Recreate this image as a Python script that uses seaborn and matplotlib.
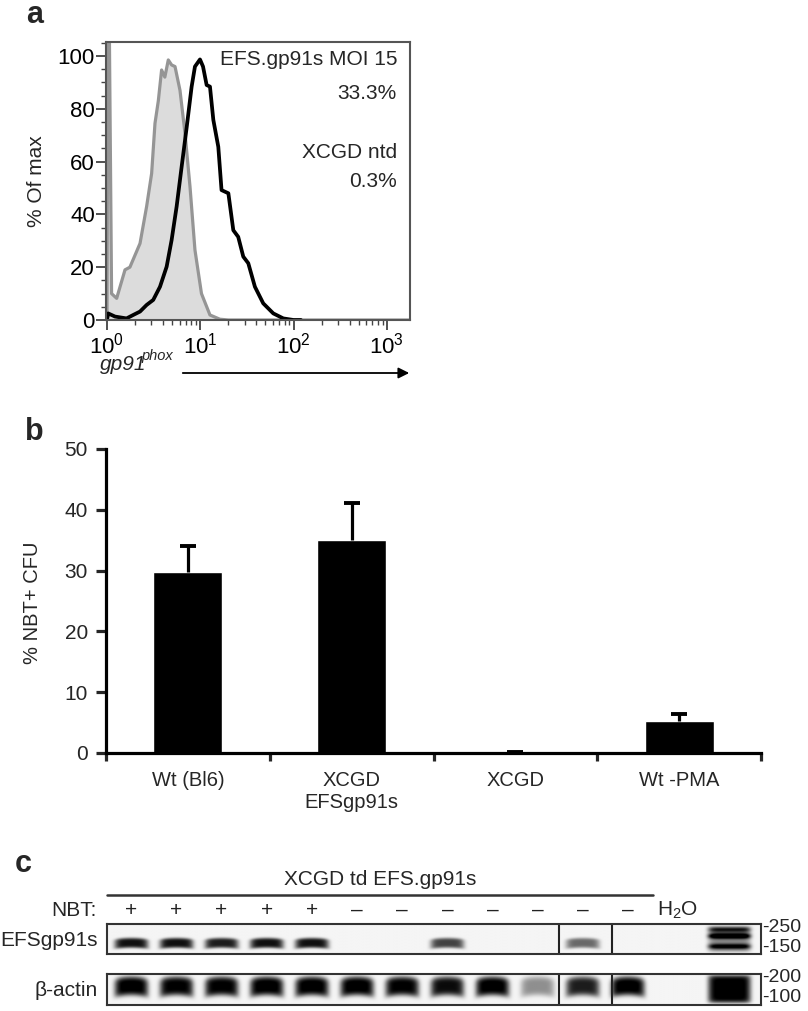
import numpy as np
import pandas as pd
import matplotlib
matplotlib.use("Agg")
import matplotlib.pyplot as plt
import matplotlib.ticker as mticker
from matplotlib.transforms import blended_transform_factory
import seaborn as sns

# ---- a: flow histograms, gp91phox (log scale) vs % of max
ntd_x = [1.0, 1.02, 1.06, 1.12, 1.27, 1.56, 1.76, 2.26, 2.66, 3.01, 3.27, 3.55, 3.85,
         4.17, 4.54, 4.93, 5.36, 6.06, 6.86, 7.76, 8.77, 10.3, 12.7, 16.2, 20.0, 1780]
ntd_y = [0, 110, 110, 10, 8.2, 19, 20, 29, 43, 55.5, 74.5, 83, 94.7,
         92, 98.5, 96.6, 96, 87, 70.7, 50.5, 26.5, 10, 1.9, 0.3, 0, 0]
td_x = [1.0, 1.03, 1.22, 1.62, 1.91, 2.26, 2.66, 3.13, 3.7, 4.36, 4.93, 5.58, 6.31, 7.15,
        8.08, 8.77, 9.93, 10.7, 11.7, 12.7, 13.8, 15.6, 16.9, 20.0, 22.6, 25.5, 28.9,
        32.7, 38.5, 47.3, 60.6, 77.6, 100, 120]
td_y = [0, 2.5, 1.3, 0.6, 1.9, 3.2, 5.7, 7.6, 12.6, 20.2, 30.3, 43, 58, 73,
        88.4, 96, 98.7, 96, 89, 88.4, 75.8, 65.6, 49.2, 48, 34, 31.5, 24,
        21.5, 12.6, 6.3, 2.5, 0.6, 0, 0]

# ---- b: % NBT+ CFU
groups = ["Wt (Bl6)", "XCGD\nEFSgp91s", "XCGD", "Wt -PMA"]
nbt_mean = [29.7, 35.0, 0.15, 5.3]
nbt_err = [4.4, 6.2, 0.0, 1.1]

# ---- c: PCR gel (band intensity per lane, 0 = none, 1 = saturated)
nbt_marks = ["+", "+", "+", "+", "+", "–", "–", "–", "–", "–", "–", "–"]
efs_band = [0.9, 0.9, 0.85, 0.9, 0.9, 0, 0, 0.7, 0, 0, 0.55, 0, 0]
actin_band = [1.0, 0.97, 0.97, 1.0, 1.0, 1.0, 0.97, 0.92, 1.0, 0.4, 0.85, 1.0, 0]
efs_ladder_y = [0.82, 0.6, 0.25]
efs_ladder_v = [0.55, 0.95, 0.7]
efs_markers = ["-250", "-150"]
actin_markers = ["-200", "-100"]

sns.set_style("white")
plt.rcParams["font.family"] = ["Liberation Sans", "DejaVu Sans"]
plt.rcParams["mathtext.fontset"] = "custom"
plt.rcParams["mathtext.rm"] = "Liberation Sans"
plt.rcParams["mathtext.it"] = "Liberation Sans:italic"

W, H = 808, 1011
fig = plt.figure(figsize=(W / 100, H / 100), dpi=100)


def box(l, t, r, b):
    return [l / W, 1 - b / H, (r - l) / W, (b - t) / H]


def fx(x):
    return x / W


def fy(y):
    return 1 - y / H


# ================= panel a
ax_a = fig.add_axes(box(106, 42, 410, 320))
ax_a.set_xscale("log")
ax_a.fill_between(ntd_x, ntd_y, color="#dcdcdc", lw=0)
sns.lineplot(x=ntd_x, y=ntd_y, ax=ax_a, color="#959595", lw=2.3, sort=False)
sns.lineplot(x=td_x, y=td_y, ax=ax_a, color="black", lw=2.7, sort=False)
ax_a.set_xlim(0.976, 1770)
ax_a.set_ylim(0, 105.3)
ax_a.set_yticks([0, 20, 40, 60, 80, 100])
ax_a.yaxis.set_minor_locator(mticker.MultipleLocator(5))
ax_a.set_xticks([1, 10, 100, 1000])
ax_a.xaxis.set_minor_locator(mticker.LogLocator(base=10, subs=np.arange(2, 10)))
ax_a.xaxis.set_minor_formatter(mticker.NullFormatter())
ax_a.tick_params(which="major", direction="out", length=7, width=1.2, colors="#333333",
                 labelcolor="black", labelsize=16, pad=2, bottom=True, left=True)
ax_a.tick_params(axis="y", which="major", pad=1)
ax_a.tick_params(which="minor", direction="out", length=3.5, width=1.0, colors="#444444",
                 bottom=True, left=True)
for s in ax_a.spines.values():
    s.set_color("#555555")
    s.set_linewidth(1.5)
ax_a.set_xlabel("")
ax_a.set_ylabel("")

fig.text(fx(26), fy(23), "a", fontsize=22, fontweight="bold", va="baseline")
fig.text(fx(37), fy(181), "% Of max", rotation=90, ha="center", va="center", fontsize=15)
fig.text(fx(397), fy(65), "EFS.gp91s MOI 15", ha="right", va="baseline", fontsize=15)
fig.text(fx(397), fy(99), "33.3%", ha="right", va="baseline", fontsize=15)
fig.text(fx(397), fy(158), "XCGD ntd", ha="right", va="baseline", fontsize=15)
fig.text(fx(397), fy(187), "0.3%", ha="right", va="baseline", fontsize=15)
fig.text(fx(100), fy(370), "gp91", ha="left", va="baseline", fontsize=15, style="italic")
fig.text(fx(141), fy(360), "phox", ha="left", va="baseline", fontsize=10.5, style="italic")
ax_a.annotate("", xy=(fx(412), fy(373)), xytext=(fx(180), fy(373)),
              xycoords="figure fraction", textcoords="figure fraction",
              arrowprops=dict(arrowstyle="-|>", color="black", lw=1.3, mutation_scale=16),
              annotation_clip=False)

# ================= panel b
ax_b = fig.add_axes(box(106, 449, 761, 753))
df_b = pd.DataFrame({"group": groups, "mean": nbt_mean, "err": nbt_err})
sns.barplot(data=df_b, x="group", y="mean", color="black", width=0.42,
            saturation=1, errorbar=None, ax=ax_b)
eb = ax_b.errorbar(np.arange(len(groups)), df_b["mean"],
                   yerr=[np.zeros(len(groups)), df_b["err"]],
                   fmt="none", ecolor="black", elinewidth=2.3, capsize=5.5, capthick=2.8)
eb[1][0].set_visible(False)
ax_b.set_xlim(-0.5, len(groups) - 0.5)
ax_b.set_ylim(0, 50)
ax_b.set_yticks([0, 10, 20, 30, 40, 50])
ax_b.set_xticks(np.arange(-0.5, len(groups)), minor=True)
sns.despine(ax=ax_b)
for s in ("left", "bottom"):
    ax_b.spines[s].set_linewidth(2.3)
    ax_b.spines[s].set_color("black")
ax_b.tick_params(axis="y", which="major", direction="out", length=7, width=2.3,
                 labelsize=15, pad=6, left=True)
ax_b.tick_params(axis="x", which="major", length=0, labelsize=14.5, pad=13)
ax_b.tick_params(axis="x", which="minor", direction="out", length=6, width=2.3, bottom=True)
ax_b.set_xlabel("")
ax_b.set_ylabel("")
fig.text(fx(25), fy(440), "b", fontsize=22, fontweight="bold", va="baseline")
fig.text(fx(33), fy(603), "% NBT+ CFU", rotation=90, ha="center", va="center", fontsize=14.5)

# ================= panel c (gel)
lane0, lane_dx = 131, 45.2
xlo = (107 - lane0) / lane_dx
xhi = (761 - lane0) / lane_dx
ladder_lane = 13.25


def gel_strip(ax, bands, yc, half_h, ladder_y, ladder_v, ladder_base):
    xs = np.linspace(xlo, xhi, 700)
    ys = np.linspace(0, 1, 80)
    X, Y = np.meshgrid(xs, ys)
    img = np.full_like(X, 0.04)
    for i, v in enumerate(bands):
        # slightly domed band: the top edge sags toward the lane sides
        dome = 0.25 * half_h * ((X - i) / 0.37) ** 2
        img += v * np.exp(-((X - i) / 0.37) ** 6) * np.exp(-((Y - yc + dome) / half_h) ** 4)
    lad_x = np.exp(-((X - ladder_lane) / 0.47) ** 8)
    img += ladder_base * lad_x * np.exp(-((Y - 0.5) / 0.44) ** 8)
    for ly, lv in zip(ladder_y, ladder_v):
        img += lv * lad_x * np.exp(-((Y - ly) / 0.09) ** 2)
    img = np.clip(img, 0, 1)
    ax.imshow(img, origin="lower", extent=[xlo, xhi, 0, 1], aspect="auto",
              cmap="gray_r", vmin=0, vmax=1.0, interpolation="bilinear")
    ax.set_xlim(xlo, xhi)
    ax.set_ylim(0, 1)
    ax.set_xticks([])
    ax.set_yticks([])
    for s in ax.spines.values():
        s.set_visible(True)
        s.set_color("#333333")
        s.set_linewidth(1.5)
    for xv in (9.47, 10.64):
        ax.axvline(xv, color="#222222", lw=1.5)


ax_c1 = fig.add_axes(box(107, 924, 761, 954))
gel_strip(ax_c1, efs_band, 0.37, 0.17, efs_ladder_y, efs_ladder_v, 0.4)
ax_c2 = fig.add_axes(box(107, 974, 761, 1005))
gel_strip(ax_c2, actin_band, 0.6, 0.3, [], [], 1.0)

tr = blended_transform_factory(ax_c1.transData, fig.transFigure)
for i, m in enumerate(nbt_marks):
    fig.text(i, fy(916), m, transform=tr, ha="center", va="baseline", fontsize=15,
             color="#222222")
fig.text(12.1, fy(916), "H$_2$O", transform=tr, ha="center", va="baseline", fontsize=15)
ax_c1.plot([xlo, 11.55], [fy(895), fy(895)], transform=tr, color="#333333", lw=1.8,
           clip_on=False)
fig.text((xlo + 11.55) / 2, fy(885), "XCGD td EFS.gp91s", transform=tr, ha="center",
         va="baseline", fontsize=15)
fig.text(fx(97), fy(916), "NBT:", ha="right", va="baseline", fontsize=15)
fig.text(fx(98), fy(940), "EFSgp91s", ha="right", va="center", fontsize=15)
fig.text(fx(98), fy(990), "β-actin", ha="right", va="center", fontsize=15)
for lab, yy in zip(efs_markers + actin_markers, [927, 947, 978, 998]):
    fig.text(fx(762), fy(yy), lab, ha="left", va="center", fontsize=14)
fig.text(fx(15), fy(872), "c", fontsize=22, fontweight="bold", va="baseline")

fig.savefig("out.png", dpi=100)
